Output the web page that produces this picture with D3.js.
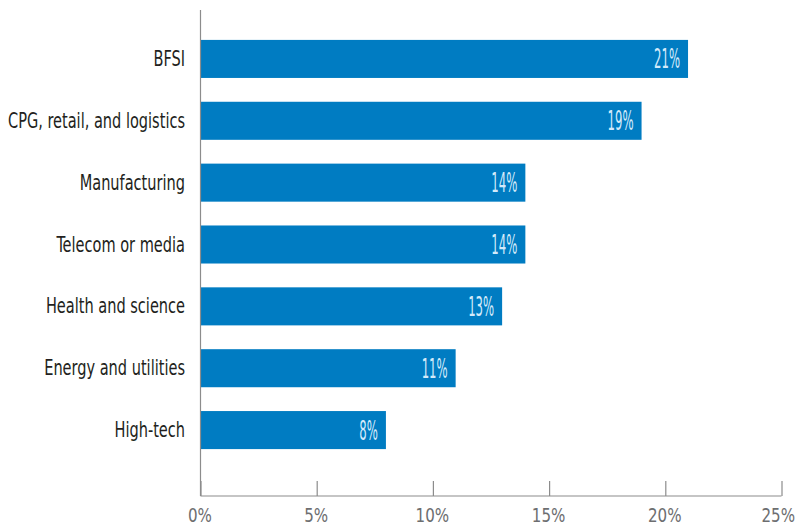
<!DOCTYPE html>
<html>
<head>
<meta charset="utf-8">
<script src="https://cdn.jsdelivr.net/npm/d3@7"></script>
<style>
  html, body { margin: 0; padding: 0; background: #fff; }
  svg { display: block; }
  .cat { font-family: "DejaVu Sans Condensed", "DejaVu Sans", sans-serif; font-size: 21px; fill: #231f20; }
  .tick-label { font-family: "DejaVu Sans Condensed", "DejaVu Sans", sans-serif; font-size: 20px; fill: #6d6e70; }
  .val { font-family: "DejaVu Sans Condensed", "DejaVu Sans", sans-serif; font-size: 26px; fill: #d3eafa; }
</style>
</head>
<body>
<svg id="chart" width="796" height="527"></svg>
<script>
// Share of respondents by industry
const categories = [
  "BFSI",
  "CPG, retail, and logistics",
  "Manufacturing",
  "Telecom or media",
  "Health and science",
  "Energy and utilities",
  "High-tech"
];
const values = [21, 19, 14, 14, 13, 11, 8];
const tickValues = [0, 5, 10, 15, 20, 25];

const svg = d3.select("#chart");
const plotLeft = 200, plotRight = 781, plotTop = 10, axisY = 496;

const x = d3.scaleLinear().domain([0, 25]).range([plotLeft, plotRight]);
const y = d3.scaleBand()
  .domain(categories)
  .range([28, 461])
  .paddingInner(0.385)
  .paddingOuter(0.1925);

const axisColor = "#8c8c8c";

// Bars
svg.append("g").selectAll("rect")
  .data(categories)
  .join("rect")
  .attr("x", x(0))
  .attr("y", d => y(d))
  .attr("width", (d, i) => x(values[i]) - x(0))
  .attr("height", y.bandwidth())
  .attr("fill", "#007cc2");

// Value labels inside bar ends (narrow display style)
svg.append("g").selectAll("text")
  .data(categories)
  .join("text")
  .attr("class", "val")
  .attr("text-anchor", "end")
  .attr("transform", (d, i) => `translate(${x(values[i]) - 8},${y(d) + y.bandwidth() / 2 + 9.5}) scale(0.5,1)`)
  .text((d, i) => values[i] + "%");

// Category labels
svg.append("g").selectAll("text")
  .data(categories)
  .join("text")
  .attr("class", "cat")
  .attr("text-anchor", "end")
  .attr("transform", d => `translate(${plotLeft - 15},${y(d) + y.bandwidth() / 2 + 7}) scale(0.77,1)`)
  .text(d => d);

// Vertical axis line
svg.append("line")
  .attr("x1", plotLeft + 0.5).attr("x2", plotLeft + 0.5)
  .attr("y1", plotTop).attr("y2", axisY)
  .attr("stroke", axisColor).attr("stroke-width", 1.2);

// Horizontal axis with upward ticks
const xAxis = d3.axisTop(x)
  .tickValues(tickValues)
  .tickSize(15)
  .tickFormat("");
const gx = svg.append("g").attr("transform", `translate(0.5,${axisY})`).call(xAxis);
gx.select(".domain").attr("stroke", axisColor).attr("stroke-width", 1.2).attr("d", `M${plotLeft},0H${plotRight}`);
gx.selectAll(".tick line").attr("stroke", axisColor).attr("stroke-width", 1.2);

// Tick labels
svg.append("g").selectAll("text")
  .data(tickValues)
  .join("text")
  .attr("class", "tick-label")
  .attr("text-anchor", (d, i) => i === tickValues.length - 1 ? "end" : "middle")
  .attr("transform", (d, i) => `translate(${i === tickValues.length - 1 ? 795 : x(d)},522) scale(0.84,1)`)
  .text(d => d + "%");
</script>
</body>
</html>
